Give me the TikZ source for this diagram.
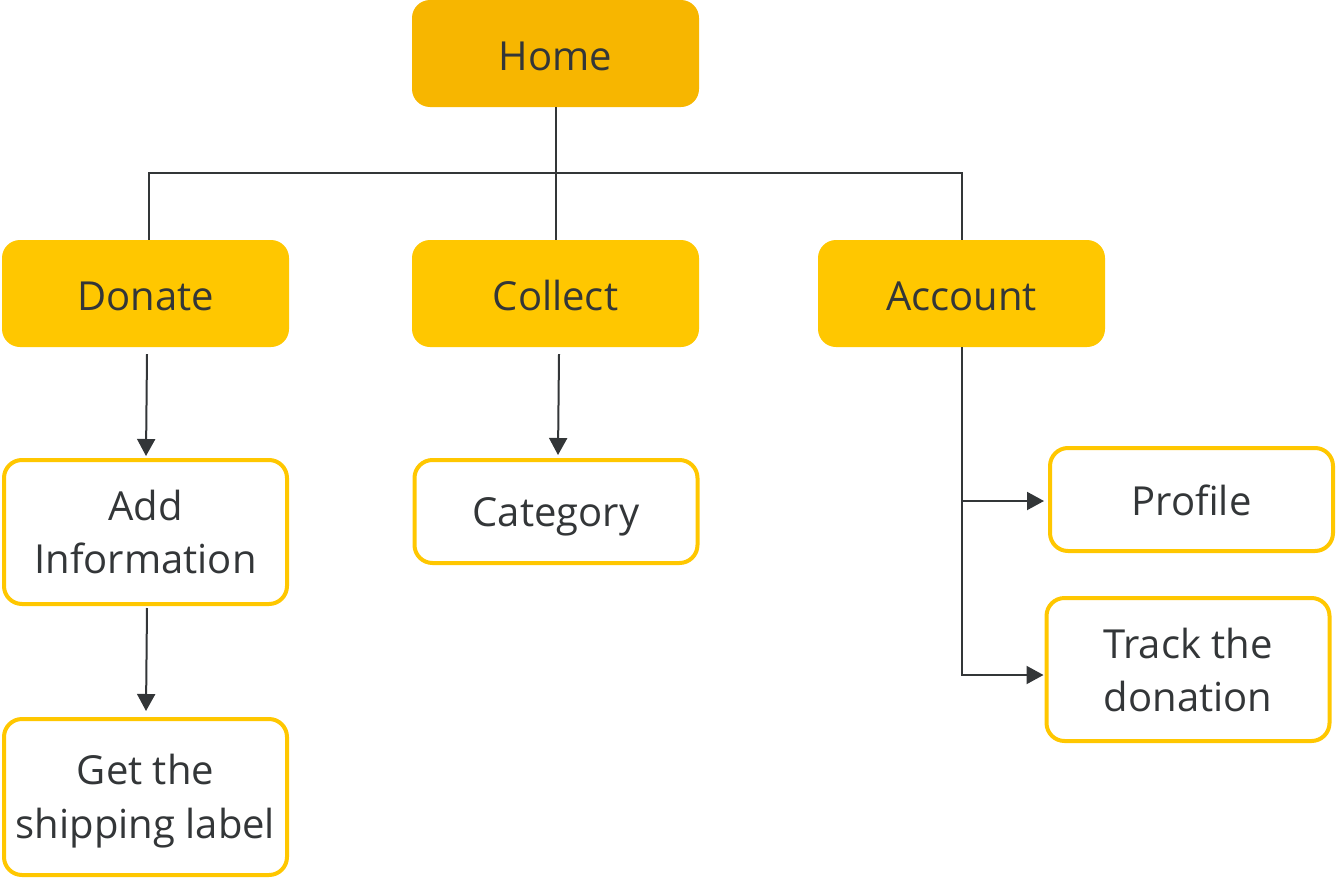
\documentclass[tikz,border=0pt]{standalone}
\usepackage{fontspec}
\setmainfont{Open Sans}
\usetikzlibrary{arrows.meta,calc}
\definecolor{homefill}{HTML}{F7B600}
\definecolor{midfill}{HTML}{FFC700}
\definecolor{edge}{HTML}{FFC700}
\definecolor{ink}{HTML}{333638}
\begin{document}
\begin{tikzpicture}[x=1pt,y=-1pt,
  base/.style={rounded corners=18pt,inner sep=0pt},
  lbl/.style={align=center,text=ink,inner sep=0pt,font=\fontsize{40}{53.5}\selectfont},
  topbox/.style={base,fill=homefill,minimum width=287pt,minimum height=107pt},
  midbox/.style={base,fill=midfill,minimum width=287pt,minimum height=107pt},
  leafbox/.style={base,draw=edge,line width=4pt,fill=white,minimum width=283pt},
  conn/.style={draw=ink,line width=2pt},
  arr/.style={conn,-{Triangle[length=17pt,width=18pt]}}]
\useasboundingbox (0,0) rectangle (1336,878);
\node[topbox,label={[lbl,yshift=-2.5pt]center:Home}] (home) at (555.5,53.5) {};
\node[midbox,label={[lbl,yshift=-2.5pt]center:Donate}] (donate) at (145.5,293.5) {};
\node[midbox,label={[lbl,yshift=-1.8pt]center:Collect}] (collect) at (555.5,293.5) {};
\node[midbox,label={[lbl,yshift=-2.5pt]center:Account}] (account) at (961.5,293.5) {};
\node[leafbox,minimum height=144pt,
  label={[lbl]center:Add\\Information}] (addinfo) at (145.5,532) {};
\node[leafbox,minimum height=103pt,
  label={[lbl,yshift=-5.7pt]center:Category}] (category) at (556,511.5) {};
\node[leafbox,minimum height=103pt,
  label={[lbl,yshift=-1.3pt]center:Profile}] (profile) at (1191.5,499.5) {};
\node[leafbox,minimum height=143pt,
  label={[lbl,yshift=-0.5pt]center:Track the\\donation}] (track) at (1188,669.5) {};
\node[leafbox,minimum height=156pt,
  label={[lbl,yshift=-4.3pt]center:Get the\\shipping label}] (ship) at (145.5,797) {};
\coordinate (bus) at (556,173);
\draw[conn] (home.south) -- (collect.north);
\draw[conn] ([xshift=3.5pt]donate.north) |- (bus) -| (account.north);
\draw[arr] ($(donate.south)+(1.5,7)$) -- ([xshift=0.5pt,yshift=2pt]addinfo.north);
\draw[arr] ($(collect.south)+(3.5,7)$) -- ([xshift=2pt,yshift=3pt]category.north);
\draw[arr] ($(addinfo.south)+(1.5,2)$) -- ([xshift=0.5pt,yshift=6pt]ship.north);
\draw[arr] (account.south) |- ([xshift=-1pt,yshift=-5.5pt]track.west);
\draw[arr] (account.south |- profile.west) ++(0,1.5) -- ([xshift=-4pt,yshift=-1.5pt]profile.west);
\end{tikzpicture}
\end{document}
